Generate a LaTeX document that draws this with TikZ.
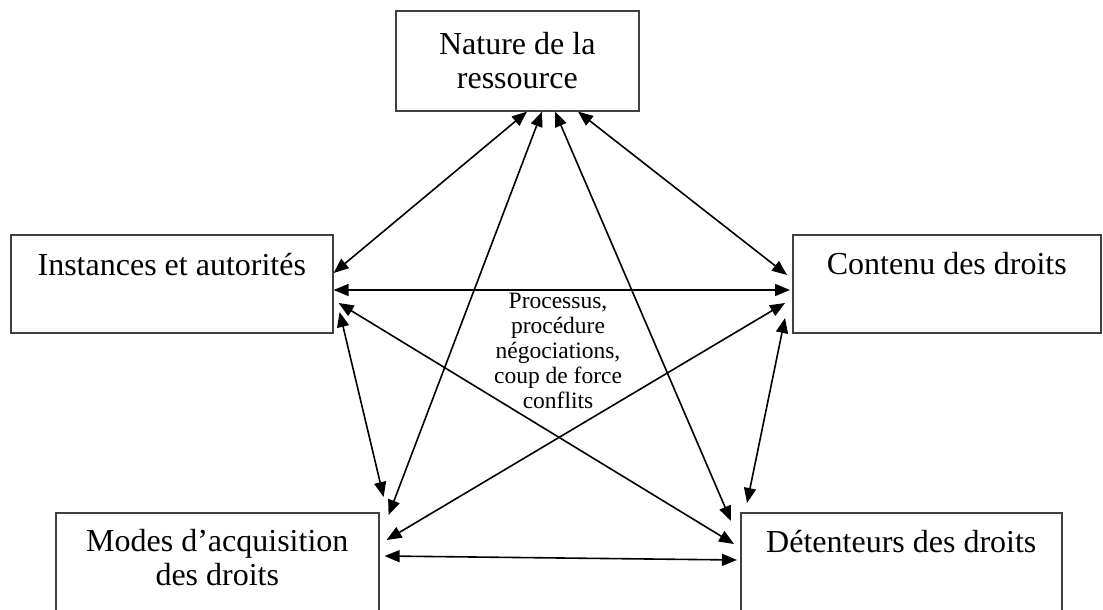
\documentclass[tikz,border=0pt]{standalone}
\usepackage{fontspec}
\setmainfont{Liberation Serif}
\usetikzlibrary{arrows.meta}
\tikzstyle{box} = [rectangle, draw=black!75, line width=1.6pt, inner sep=0pt, anchor=north west, align=center, font=\fontsize{32}{34}\selectfont]
\tikzstyle{arrow} = [line width=1.6pt, <->, >={Triangle[length=15pt,width=12pt]}]

\begin{document}
\begin{tikzpicture}[x=1pt,y=-1pt]
	\clip (0,0) rectangle (1103,610);
	\node[box, minimum width=243pt, minimum height=100pt] (nature) at (395,10) {Nature de la\\ressource};
	\node[box, minimum width=322pt, text height=41pt, text depth=57pt] (instances) at (10,234) {Instances et autorités};
	\node[box, minimum width=308pt, text height=40pt, text depth=58pt] (contenu) at (792,234) {Contenu des droits};
	\node[box, minimum width=323pt, text height=73pt, text depth=57pt] (modes) at (55,512) {Modes d’acquisition\\des droits};
	\node[box, minimum width=321pt, text height=40pt, text depth=90pt] (detenteurs) at (740,512) {Détenteurs des droits};
	\node[align=center, inner sep=0pt, font=\fontsize{23.5}{25}\selectfont] (process) at (558,351) {Processus,\\procédure\\négociations,\\coup de force\\conflits};

	% liens entre les cinq pôles
	\draw[arrow] ([xshift=132pt]nature.south west) -- ([yshift=-39pt]instances.north east);
	\draw[arrow] ([xshift=147pt]nature.south west) -- ([shift={(9pt,-3pt)}]modes.north east);
	\draw[arrow] ([xshift=160pt]nature.south west) -- ([shift={(-9pt,-9pt)}]detenteurs.north west);
	\draw[arrow] ([xshift=183pt]nature.south west) -- ([shift={(-5pt,-41pt)}]contenu.north west);
	\draw[arrow] ([yshift=-56pt]instances.north east) -- ([shift={(-2pt,-56pt)}]contenu.north west);
	\draw[arrow] ([shift={(5pt,-69pt)}]instances.north east) -- ([shift={(-6pt,-32pt)}]detenteurs.north west);
	\draw[arrow] ([shift={(6pt,-78pt)}]instances.north east) -- ([shift={(4pt,15pt)}]modes.north east);
	\draw[arrow] ([shift={(-7pt,-69pt)}]contenu.north west) -- ([shift={(7pt,-28pt)}]modes.north east);
	\draw[arrow] ([shift={(-7pt,-84pt)}]contenu.north west) -- ([shift={(7pt,9pt)}]detenteurs.north west);
	\draw[arrow] ([shift={(5pt,-44pt)}]modes.north east) -- ([shift={(-3pt,-48pt)}]detenteurs.north west);
\end{tikzpicture}
\end{document}
